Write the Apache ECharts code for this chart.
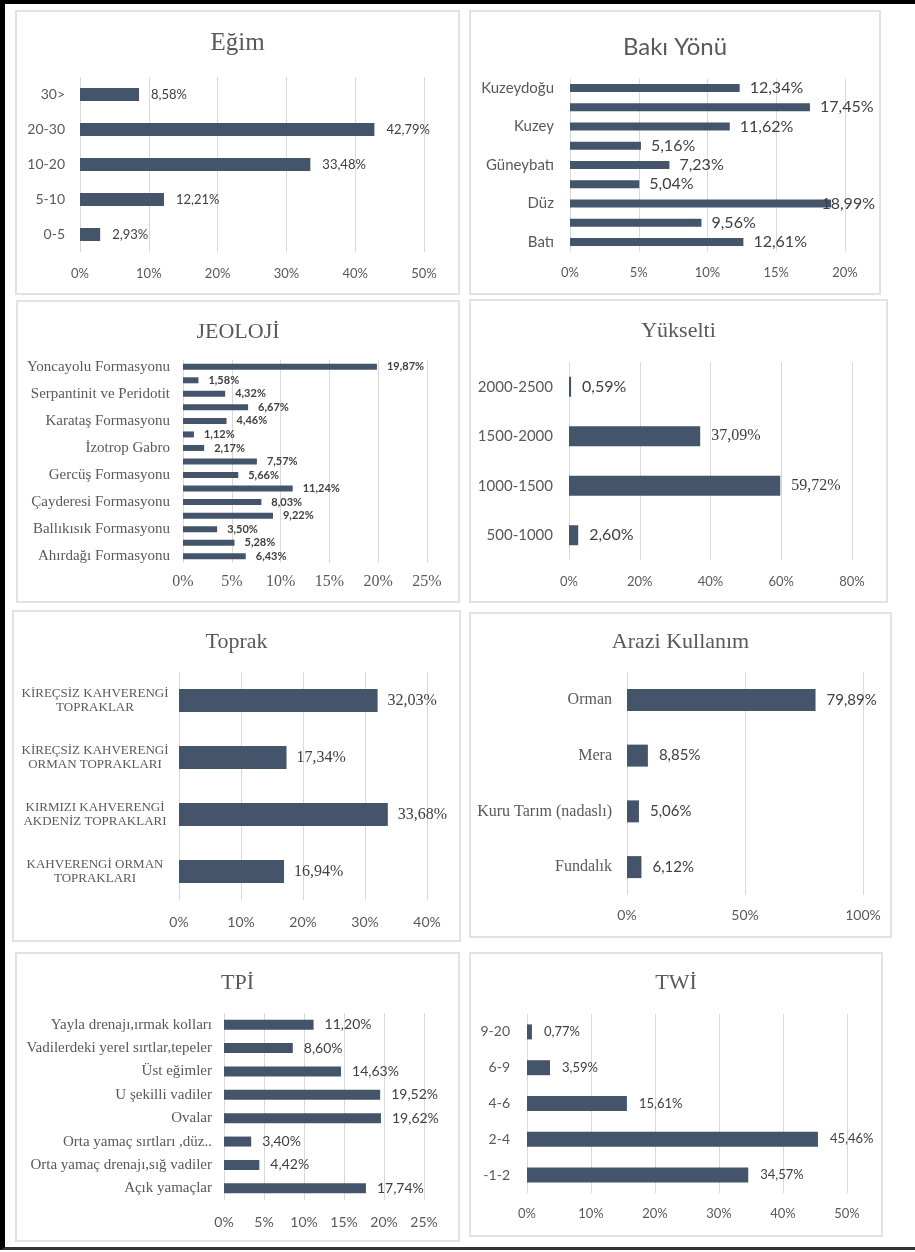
<!DOCTYPE html>
<html>
<head>
<meta charset="utf-8">
<script src="https://cdn.jsdelivr.net/npm/echarts@6/dist/echarts.min.js"></script>
<style>
  body { margin: 0; background: #fff; }
  #frame {
    position: absolute; left: 0; top: 0; width: 915px; height: 1250px;
    box-sizing: border-box;
    border-top: 4px solid #000; border-left: 5px solid #000; border-bottom: 3px solid #333;
  }
  .panel { position: absolute; box-shadow: inset 0 0 0 2px #e2e2e2; }
</style>
</head>
<body>
<div id="frame"></div>
<div class="panel" id="egim"    style="left:15px;top:10px;width:445px;height:285px"></div>
<div class="panel" id="baki"    style="left:469px;top:10px;width:412px;height:285px"></div>
<div class="panel" id="jeoloji" style="left:16px;top:300px;width:444px;height:303px"></div>
<div class="panel" id="yukselti" style="left:469px;top:299px;width:419px;height:304px"></div>
<div class="panel" id="toprak"  style="left:12px;top:610px;width:449px;height:332px"></div>
<div class="panel" id="arazi"   style="left:469px;top:612px;width:423px;height:326px"></div>
<div class="panel" id="tpi"     style="left:15px;top:952px;width:445px;height:290px"></div>
<div class="panel" id="twi"     style="left:469px;top:952px;width:414px;height:285px"></div>

<script>
// verileri (alttan üste doğru, yüzde)
const egimCats = ['0-5', '5-10', '10-20', '20-30', '30>'];
const egimVals = [2.93, 12.21, 33.48, 42.79, 8.58];

const bakiCats = ['Batı', 'Doğu', 'Düz', 'Güney', 'Güneybatı', 'Güneydoğu', 'Kuzey', 'Kuzeybatı', 'Kuzeydoğu'];
const bakiVals = [12.61, 9.56, 18.99, 5.04, 7.23, 5.16, 11.62, 17.45, 12.34];

// gizli etiketli sınıflar okunamıyor, boş bırakıldı
const jeoCats = ['Ahırdağı Formasyonu', '', 'Ballıkısık Formasyonu', '', 'Çayderesi Formasyonu', '',
  'Gercüş Formasyonu', '', 'İzotrop Gabro', '', 'Karataş Formasyonu', '',
  'Serpantinit ve Peridotit', '', 'Yoncayolu Formasyonu'];
const jeoVals = [6.43, 5.28, 3.50, 9.22, 8.03, 11.24, 5.66, 7.57, 2.17, 1.12, 4.46, 6.67, 4.32, 1.58, 19.87];

const yukCats = ['500-1000', '1000-1500', '1500-2000', '2000-2500'];
const yukVals = [2.60, 59.72, 37.09, 0.59];

const toprakCats = ['KAHVERENGİ ORMAN\nTOPRAKLARI', 'KIRMIZI KAHVERENGİ\nAKDENİZ TOPRAKLARI',
  'KİREÇSİZ KAHVERENGİ\nORMAN TOPRAKLARI', 'KİREÇSİZ KAHVERENGİ\nTOPRAKLAR'];
const toprakVals = [16.94, 33.68, 17.34, 32.03];

const araziCats = ['Fundalık', 'Kuru Tarım (nadaslı)', 'Mera', 'Orman'];
const araziVals = [6.12, 5.06, 8.85, 79.89];

const tpiCats = ['Açık yamaçlar', 'Orta yamaç drenajı,sığ vadiler', 'Orta yamaç sırtları ,düz..', 'Ovalar',
  'U şekilli vadiler', 'Üst eğimler', 'Vadilerdeki yerel sırtlar,tepeler', 'Yayla drenajı,ırmak kolları'];
const tpiVals = [17.74, 4.42, 3.40, 19.62, 19.52, 14.63, 8.60, 11.20];

const twiCats = ['-1-2', '2-4', '4-6', '6-9', '9-20'];
const twiVals = [34.57, 45.46, 15.61, 3.59, 0.77];

const SANS = 'Lato, "Open Sans", sans-serif';
const SERIF = '"Liberation Serif", "DejaVu Serif", serif';

function pct(v) {
  return v.toFixed(2).replace('.', ',') + '%';
}

function makeChart(id, o) {
  let chart = echarts.init(document.getElementById(id));
  let serifIdx = o.serifLabelIdx || [];
  chart.setOption({
    animation: false,
    title: {
      text: o.title, left: 'center', top: o.titleTop,
      textStyle: { fontFamily: o.titleFont || SERIF, fontSize: o.titleSize, fontWeight: 'normal', color: '#595959' }
    },
    grid: Object.assign({ outerBoundsMode: 'none' }, o.grid),
    xAxis: {
      type: 'value', min: 0, max: o.max, interval: o.step,
      axisLine: { show: false }, axisTick: { show: false },
      splitLine: { lineStyle: { color: '#d9d9d9', width: 1 } },
      axisLabel: {
        formatter: '{value}%', color: '#595959',
        fontFamily: o.axisFont || SANS, fontSize: o.axisSize, margin: o.axisMargin
      }
    },
    yAxis: {
      type: 'category', data: o.cats,
      axisLine: { show: false }, axisTick: { show: false },
      axisLabel: {
        interval: o.catInterval || 0, color: '#595959',
        fontFamily: o.catFont || SANS, fontSize: o.catSize, margin: o.catMargin,
        align: o.catAlign || 'right', lineHeight: o.catLineHeight
      }
    },
    series: [{
      type: 'bar',
      data: o.vals.map((v, i) => serifIdx.includes(i) ? { value: v, label: { fontFamily: SERIF } } : v),
      barWidth: o.barWidth,
      itemStyle: { color: '#44546A' },
      label: {
        show: true, position: 'right', distance: o.labelDist,
        formatter: p => pct(p.value),
        color: '#404040', fontFamily: o.labelFont || SANS, fontSize: o.labelSize,
        fontWeight: o.labelWeight || 'normal'
      }
    }],
    // Excel gibi: etiket grafik alanından taşarsa içeri çek
    labelLayout: function (p) {
      let limit = chart.getWidth() - 6;
      let r = p.labelRect;
      if (r.x + r.width > limit) return { dx: limit - (r.x + r.width) };
    }
  });
  return chart;
}

makeChart('egim', {
  title: 'Eğim', titleSize: 25, titleTop: 16,
  grid: { left: 65, top: 67, width: 344, height: 175 },
  max: 50, step: 10, axisSize: 13, axisMargin: 15,
  cats: egimCats, vals: egimVals, catSize: 14, catMargin: 15,
  barWidth: 13, labelDist: 12, labelSize: 13
});

makeChart('baki', {
  title: 'Bakı Yönü', titleFont: SANS, titleSize: 24, titleTop: 20,
  grid: { left: 101, top: 68.5, width: 275, height: 173 },
  max: 20, step: 5, axisSize: 13, axisMargin: 15,
  cats: bakiCats, vals: bakiVals, catSize: 15, catMargin: 16, catInterval: 1,
  barWidth: 8, labelDist: 10, labelSize: 16
});

makeChart('jeoloji', {
  title: 'JEOLOJİ', titleSize: 22, titleTop: 16,
  grid: { left: 167, top: 60, width: 244, height: 203 },
  max: 25, step: 5, axisFont: SERIF, axisSize: 16, axisMargin: 11,
  cats: jeoCats, vals: jeoVals, catFont: SERIF, catSize: 15, catMargin: 13, catInterval: 1,
  barWidth: 6, labelDist: 10, labelSize: 11, labelWeight: 'bold'
});

makeChart('yukselti', {
  title: 'Yükselti', titleSize: 22, titleTop: 16,
  grid: { left: 100, top: 63, width: 283, height: 198 },
  max: 80, step: 20, axisSize: 13, axisMargin: 15,
  cats: yukCats, vals: yukVals, catSize: 15, catMargin: 16,
  barWidth: 20, labelDist: 11, labelSize: 16, serifLabelIdx: [1, 2]
});

makeChart('toprak', {
  title: 'Toprak', titleSize: 22, titleTop: 16,
  grid: { left: 167, top: 62, width: 248, height: 228 },
  max: 40, step: 10, axisSize: 14, axisMargin: 15,
  cats: toprakCats, vals: toprakVals, catFont: SERIF, catSize: 13, catMargin: 84,
  catAlign: 'center', catLineHeight: 14,
  barWidth: 23, labelDist: 10, labelFont: SERIF, labelSize: 16
});

makeChart('arazi', {
  title: 'Arazi Kullanım', titleSize: 22, titleTop: 14,
  grid: { left: 158, top: 60, width: 236, height: 223 },
  max: 100, step: 50, axisSize: 14, axisMargin: 13,
  cats: araziCats, vals: araziVals, catFont: SERIF, catSize: 16, catMargin: 15,
  barWidth: 22, labelDist: 11, labelSize: 15
});

makeChart('tpi', {
  title: 'TPİ', titleSize: 22, titleTop: 15,
  grid: { left: 209, top: 61, width: 200, height: 187 },
  max: 25, step: 5, axisSize: 14, axisMargin: 15,
  cats: tpiCats, vals: tpiVals, catFont: SERIF, catSize: 15, catMargin: 12,
  barWidth: 10, labelDist: 11, labelSize: 14
});

makeChart('twi', {
  title: 'TWİ', titleSize: 22, titleTop: 15,
  grid: { left: 58, top: 62, width: 320, height: 179 },
  max: 50, step: 10, axisSize: 13, axisMargin: 14,
  cats: twiCats, vals: twiVals, catSize: 14, catMargin: 17,
  barWidth: 15, labelDist: 12, labelSize: 13
});
</script>
</body>
</html>
